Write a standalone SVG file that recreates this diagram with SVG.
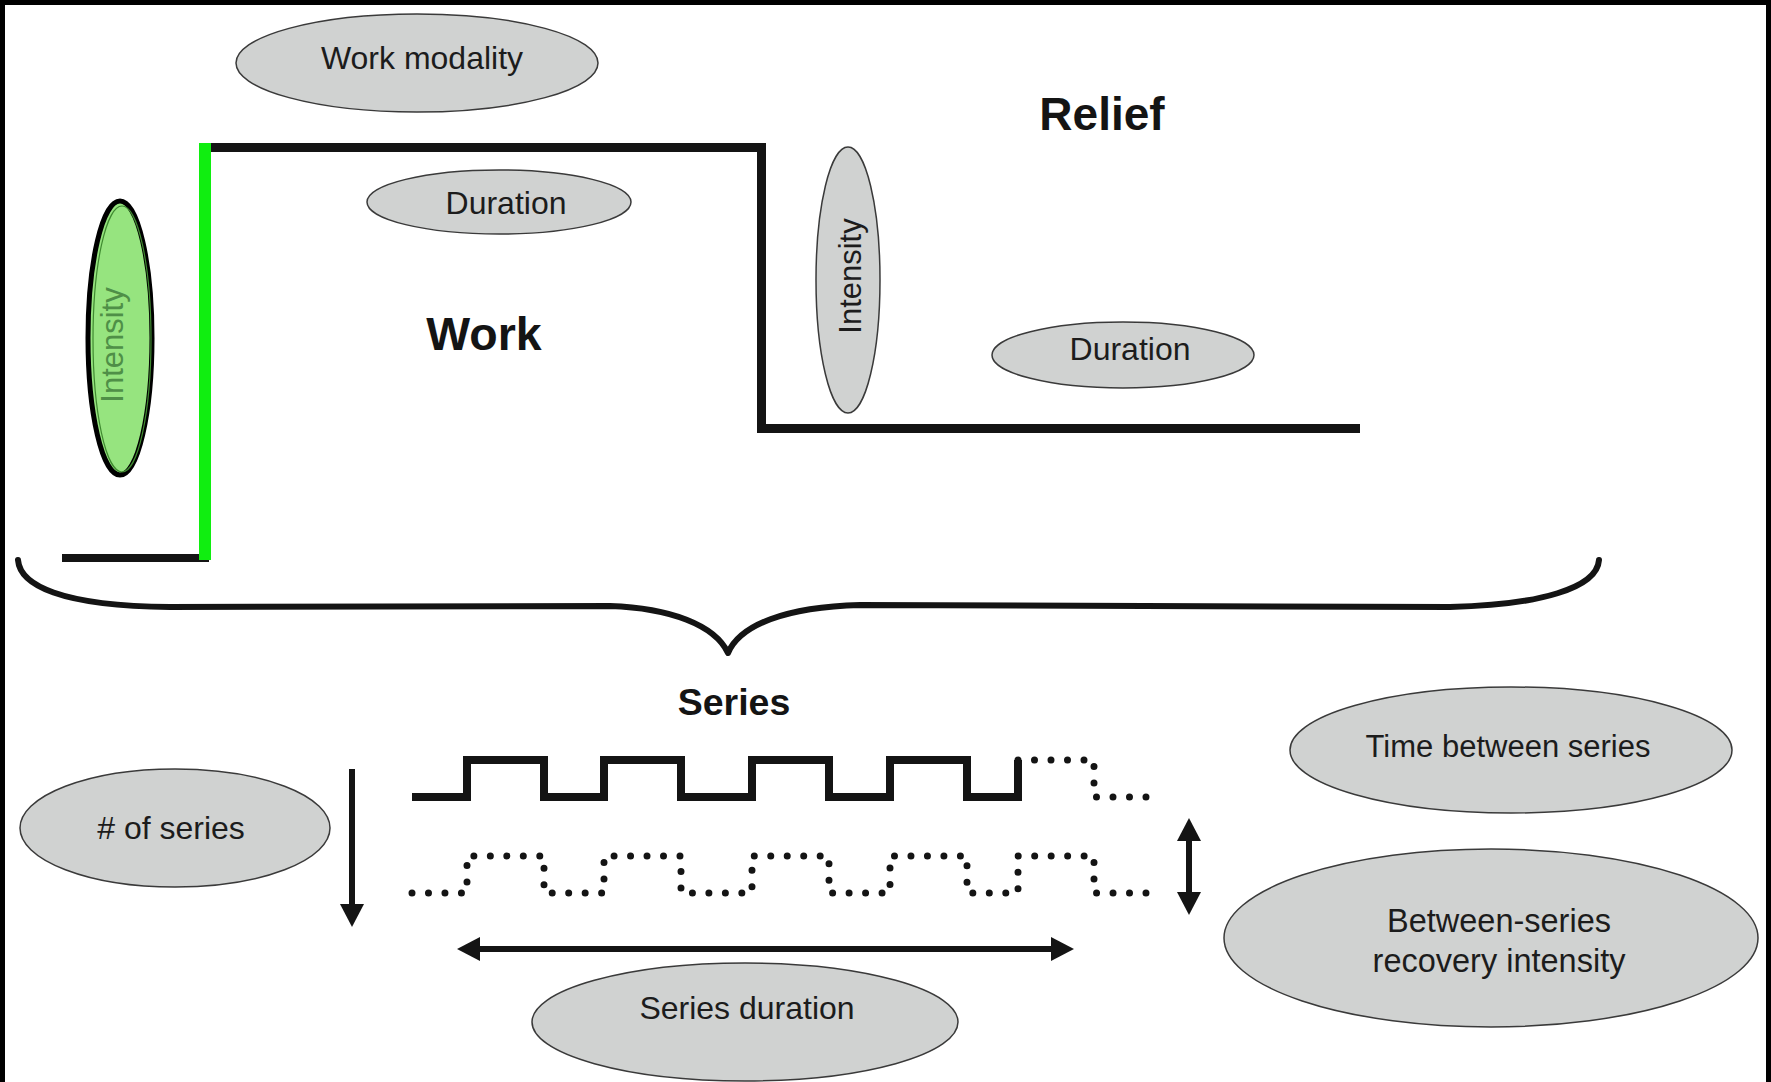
<svg xmlns="http://www.w3.org/2000/svg" width="1771" height="1082" viewBox="0 0 1771 1082">
  <style>
    .lbl { font-family: "Liberation Sans", Arial, sans-serif; font-size: 32px; fill: #1c1c1c; text-anchor: middle; }
    .big { font-family: "Liberation Sans", Arial, sans-serif; font-weight: bold; fill: #141414; text-anchor: middle; }
    .oval { fill: #d0d2d1; stroke: #3a3a3a; stroke-width: 1.5; }
    .heavy { fill: none; stroke: #141414; stroke-linecap: butt; stroke-linejoin: miter; }
    .dots { fill: none; stroke: #141414; stroke-width: 7; stroke-linecap: round; stroke-dasharray: 0 1; }
    .arrow { stroke: #141414; stroke-width: 6; fill: none; }
  </style>
  <defs>
    <marker id="ah" viewBox="0 0 23 24" markerWidth="23" markerHeight="24" refX="13" refY="12" orient="auto-start-reverse" markerUnits="userSpaceOnUse">
      <path d="M0,0 L23,12 L0,24 z" fill="#141414"/>
    </marker>
  </defs>

  <!-- frame -->
  <rect x="0" y="0" width="1771" height="1082" fill="#000"/>
  <rect x="5" y="5" width="1761" height="1077" fill="#fff"/>

  <!-- work / relief profile -->
  <g id="profile">
    <path class="heavy" d="M62 558 H209" stroke-width="8"/>
    <path class="heavy" d="M205 147.5 H761.5 V428.5 H1360" stroke-width="9"/>
    <rect x="199" y="143" width="12" height="417" fill="#10ee10"/>
  </g>

  <g id="work-modality">
    <ellipse class="oval" cx="417" cy="63" rx="181" ry="49"/>
    <text class="lbl" x="422" y="69">Work modality</text>
  </g>

  <g id="work-duration">
    <ellipse class="oval" cx="499" cy="202" rx="132" ry="32"/>
    <text class="lbl" x="506" y="214">Duration</text>
  </g>

  <g id="work-intensity">
    <ellipse cx="120" cy="338" rx="32" ry="137" fill="#96e47f" stroke="#000" stroke-width="5"/>
    <ellipse cx="122" cy="339" rx="29" ry="133" fill="none" stroke="#3f8a30" stroke-width="1.2"/>
    <text class="lbl" transform="translate(123 345) rotate(-90)" x="0" y="0" style="font-size:31px; fill:#4f8f47">Intensity</text>
  </g>

  <g id="work-label">
    <text class="big" x="484" y="350" style="font-size:46.5px">Work</text>
  </g>

  <g id="relief-label">
    <text class="big" x="1102" y="130" style="font-size:46px">Relief</text>
  </g>

  <g id="relief-intensity">
    <ellipse class="oval" cx="848" cy="280" rx="32" ry="133"/>
    <text class="lbl" transform="translate(861 276) rotate(-90)" x="0" y="0" style="font-size:31px">Intensity</text>
  </g>

  <g id="relief-duration">
    <ellipse class="oval" cx="1123" cy="355" rx="131" ry="33"/>
    <text class="lbl" x="1130" y="360">Duration</text>
  </g>

  <g id="brace">
    <path d="M18 560 C20 585, 60 606, 170 607 L610 606 C670 608, 715 625, 728 653 C740 625, 785 607, 860 605 L1450 607 C1540 605, 1597 588, 1599 560" fill="none" stroke="#141414" stroke-width="6" stroke-linecap="round" stroke-linejoin="round"/>
  </g>

  <g id="series-label">
    <text class="big" x="734" y="715" style="font-size:37.5px">Series</text>
  </g>

  <g id="series-waves">
    <path class="heavy" stroke-width="8" d="M412 797 H467 V760 H544 V797 H604 V760 H681 V797 H752 V760 H829 V797 H890 V760 H967 V797 H1018 V760"/>
    <path class="dots" pathLength="10.001" d="M1018 760 H1094 V797 H1146"/>
    <path class="dots" pathLength="67.001" d="M412 893 H467 V856 H544 V893 H604 V856 H681 V893 H752 V856 H829 V893 H890 V856 H967 V893 H1018 V856 H1094 V893 H1146"/>
  </g>

  <g id="num-series">
    <ellipse class="oval" cx="175" cy="828" rx="155" ry="59"/>
    <text class="lbl" x="171" y="839">&#35; of series</text>
  </g>

  <g id="time-between">
    <ellipse class="oval" cx="1511" cy="750" rx="221" ry="63"/>
    <text class="lbl" x="1508" y="757" style="font-size:31px">Time between series</text>
  </g>

  <g id="recovery-intensity">
    <ellipse class="oval" cx="1491" cy="938" rx="267" ry="89"/>
    <text class="lbl" x="1499" y="932" style="font-size:32.5px">Between-series</text>
    <text class="lbl" x="1499" y="972" style="font-size:32.5px">recovery intensity</text>
  </g>

  <g id="series-duration">
    <ellipse class="oval" cx="745" cy="1022" rx="213" ry="59"/>
    <text class="lbl" x="747" y="1019">Series duration</text>
  </g>

  <g id="connectors">
    <line class="arrow" x1="352" y1="769" x2="352" y2="917" marker-end="url(#ah)"/>
    <line class="arrow" x1="467" y1="949" x2="1064" y2="949" marker-start="url(#ah)" marker-end="url(#ah)"/>
    <line class="arrow" x1="1189" y1="828" x2="1189" y2="905" marker-start="url(#ah)" marker-end="url(#ah)"/>
  </g>
</svg>
